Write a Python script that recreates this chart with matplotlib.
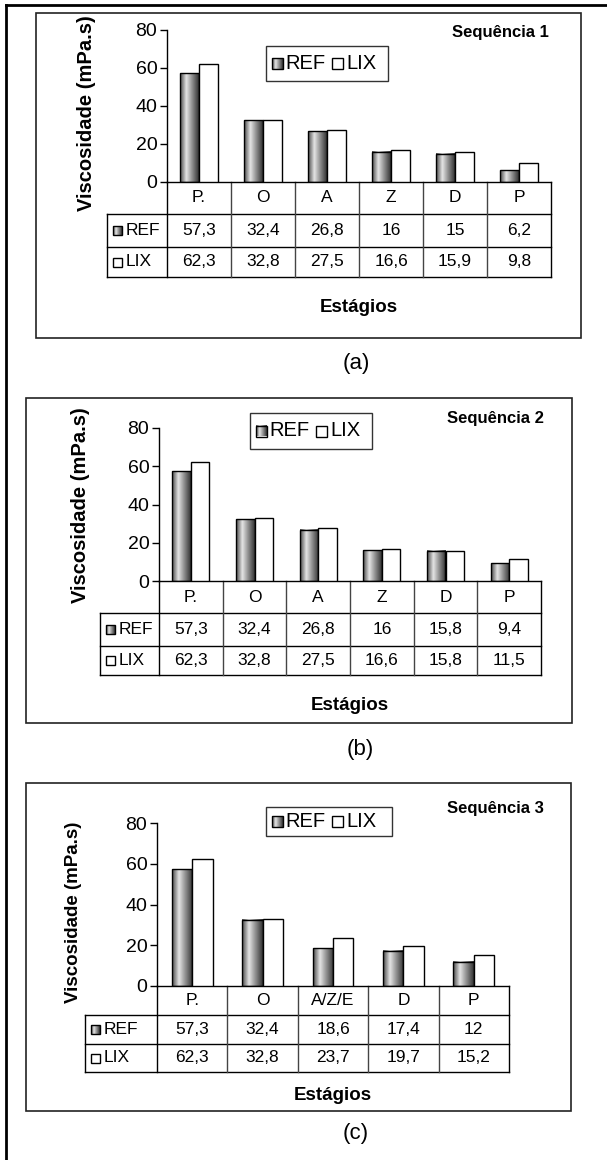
import numpy as np
import matplotlib.pyplot as plt
from matplotlib.colors import LinearSegmentedColormap
from matplotlib.patches import Rectangle

plt.rcParams['font.family'] = ['Liberation Sans', 'DejaVu Sans']

# dados das três sequências
estagios_1 = ['P.', 'O', 'A', 'Z', 'D', 'P']
ref_1 = [57.3, 32.4, 26.8, 16, 15, 6.2]
lix_1 = [62.3, 32.8, 27.5, 16.6, 15.9, 9.8]

estagios_2 = ['P.', 'O', 'A', 'Z', 'D', 'P']
ref_2 = [57.3, 32.4, 26.8, 16, 15.8, 9.4]
lix_2 = [62.3, 32.8, 27.5, 16.6, 15.8, 11.5]

estagios_3 = ['P.', 'O', 'A/Z/E', 'D', 'P']
ref_3 = [57.3, 32.4, 18.6, 17.4, 12]
lix_3 = [62.3, 32.8, 23.7, 19.7, 15.2]

series = ['REF', 'LIX']
titulos = ['Sequência 1', 'Sequência 2', 'Sequência 3']
rotulos = ['(a)', '(b)', '(c)']
yticks = [0, 20, 40, 60, 80]

dados = [(estagios_1, ref_1, lix_1), (estagios_2, ref_2, lix_2), (estagios_3, ref_3, lix_3)]

# posições em pixels de cada painel
layout = [
    dict(box=(36, 13, 581, 338), ax_x=167, tab_l=107, tab_r=551, y0=182, y80=30,
         rows=(214, 247, 277), leg=(266, 46, 388, 81), seq=(549, 33), est=(359, 308),
         lab=(356, 364), ylab=(86, 113), ylab_fs=14.5),
    dict(box=(26, 398, 572, 723), ax_x=159, tab_l=100, tab_r=541, y0=581, y80=428,
         rows=(613, 646, 675), leg=(250, 413, 372, 449), seq=(544, 419), est=(350, 705),
         lab=(360, 750), ylab=(81, 505), ylab_fs=14.5),
    dict(box=(26, 783, 571, 1111), ax_x=157, tab_l=85, tab_r=509, y0=986, y80=823,
         rows=(1015, 1044, 1072), leg=(266, 807, 392, 836), seq=(544, 808), est=(333, 1095),
         lab=(356, 1133), ylab=(74, 912), ylab_fs=13.5),
]

W, H = 607, 1160
fig = plt.figure(figsize=(W / 100, H / 100), dpi=100)

bg = fig.add_axes([0, 0, 1, 1])
bg.set_xlim(0, W)
bg.set_ylim(H, 0)
bg.axis('off')

cmap = LinearSegmentedColormap.from_list('ref', ['#4a4a4a', '#e4e4e4', '#8a8a8a', '#333333'])
grad = np.linspace(0, 1, 64).reshape(1, -1)


def chave(x, y, s, ref):
    # quadradinho da legenda
    if ref:
        bg.imshow(grad, cmap=cmap, extent=(x, x + s, y + s, y), aspect='auto', zorder=3)
    else:
        bg.add_patch(Rectangle((x, y), s, s, facecolor='white', edgecolor='none', zorder=3))
    bg.add_patch(Rectangle((x, y), s, s, facecolor='none', edgecolor='black', lw=1, zorder=4))


bg.plot([6, 6], [5, H], color='black', lw=2)
bg.plot([6, W], [5, 5], color='black', lw=2)

for k, ((cats, ref, lix), L) in enumerate(zip(dados, layout)):
    n = len(cats)
    l, t, r, b = L['box']
    bg.add_patch(Rectangle((l, t), r - l, b - t, facecolor='white', edgecolor='#222222', lw=1.2, zorder=1))

    ax = fig.add_axes([L['ax_x'] / W, 1 - L['y0'] / H, (L['tab_r'] - L['ax_x']) / W,
                       (L['y0'] - L['y80']) / H])
    ax.set_facecolor('none')
    ax.set_zorder(2)
    x = np.arange(n) + 0.5
    w = 0.29
    barras_ref = ax.bar(x - w, ref, w, align='edge', facecolor='none', edgecolor='black', lw=1, zorder=3)
    ax.bar(x, lix, w, align='edge', facecolor='white', edgecolor='black', lw=1, zorder=3)
    for p in barras_ref:
        ax.imshow(grad, cmap=cmap, extent=(p.get_x(), p.get_x() + p.get_width(), 0, p.get_height()),
                  aspect='auto', zorder=2)
    ax.set_xlim(0, n)
    ax.set_ylim(0, 80)
    ax.set_yticks(yticks)
    ax.set_xticks([])
    ax.tick_params(axis='y', length=5, width=1, labelsize=14, pad=2)
    for s in ['top', 'right']:
        ax.spines[s].set_visible(False)
    for s in ['left', 'bottom']:
        ax.spines[s].set_linewidth(1)

    # tabela de dados
    cw = (L['tab_r'] - L['ax_x']) / n
    r0, r1, r2 = L['rows']
    for yy in (r0, r1, r2):
        bg.plot([L['tab_l'], L['tab_r']], [yy, yy], color='black', lw=1, zorder=2)
    bg.plot([L['tab_l'], L['tab_l']], [r0, r2], color='black', lw=1, zorder=2)
    bg.plot([L['ax_x'], L['ax_x']], [L['y0'], r2], color='black', lw=1, zorder=2)
    bg.plot([L['tab_r'], L['tab_r']], [L['y0'], r2], color='black', lw=1, zorder=2)
    for j in range(1, n):
        xx = L['ax_x'] + j * cw
        bg.plot([xx, xx], [L['y0'], r2], color='#444444', lw=1, zorder=2)
    for j in range(n):
        cx = L['ax_x'] + (j + 0.5) * cw
        bg.text(cx, (L['y0'] + r0) / 2, cats[j], ha='center', va='center', fontsize=12.5, zorder=3)
        bg.text(cx, (r0 + r1) / 2, f"{ref[j]:g}".replace('.', ','), ha='center', va='center',
                fontsize=12.5, zorder=3)
        bg.text(cx, (r1 + r2) / 2, f"{lix[j]:g}".replace('.', ','), ha='center', va='center',
                fontsize=12.5, zorder=3)
    for i, (nome, ya, yb) in enumerate([(series[0], r0, r1), (series[1], r1, r2)]):
        ym = (ya + yb) / 2
        chave(L['tab_l'] + 6, ym - 4.5, 9, i == 0)
        bg.text(L['tab_l'] + 19, ym, nome, ha='left', va='center', fontsize=12.5, zorder=3)

    # legenda
    ll, lt, lr, lb = L['leg']
    bg.add_patch(Rectangle((ll, lt), lr - ll, lb - lt, facecolor='white', edgecolor='#333333', lw=1, zorder=2))
    ym = (lt + lb) / 2
    chave(ll + 6, ym - 5.5, 11, True)
    bg.text(ll + 19, ym, series[0], ha='left', va='center', fontsize=14.5, zorder=3)
    chave(ll + 66, ym - 5.5, 11, False)
    bg.text(ll + 80, ym, series[1], ha='left', va='center', fontsize=14.5, zorder=3)

    bg.text(*L['seq'], titulos[k], ha='right', va='center', fontsize=12, fontweight='bold', zorder=3)
    bg.text(*L['est'], 'Estágios', ha='center', va='center', fontsize=13.5, fontweight='bold', zorder=3)
    bg.text(*L['ylab'], 'Viscosidade (mPa.s)', ha='center', va='center', rotation=90,
            fontsize=L['ylab_fs'], fontweight='bold', zorder=3)
    bg.text(*L['lab'], rotulos[k], ha='center', va='center', fontsize=16, zorder=3)

bg.set_xlim(0, W)
bg.set_ylim(H, 0)
fig.savefig('out.png', dpi=100)
